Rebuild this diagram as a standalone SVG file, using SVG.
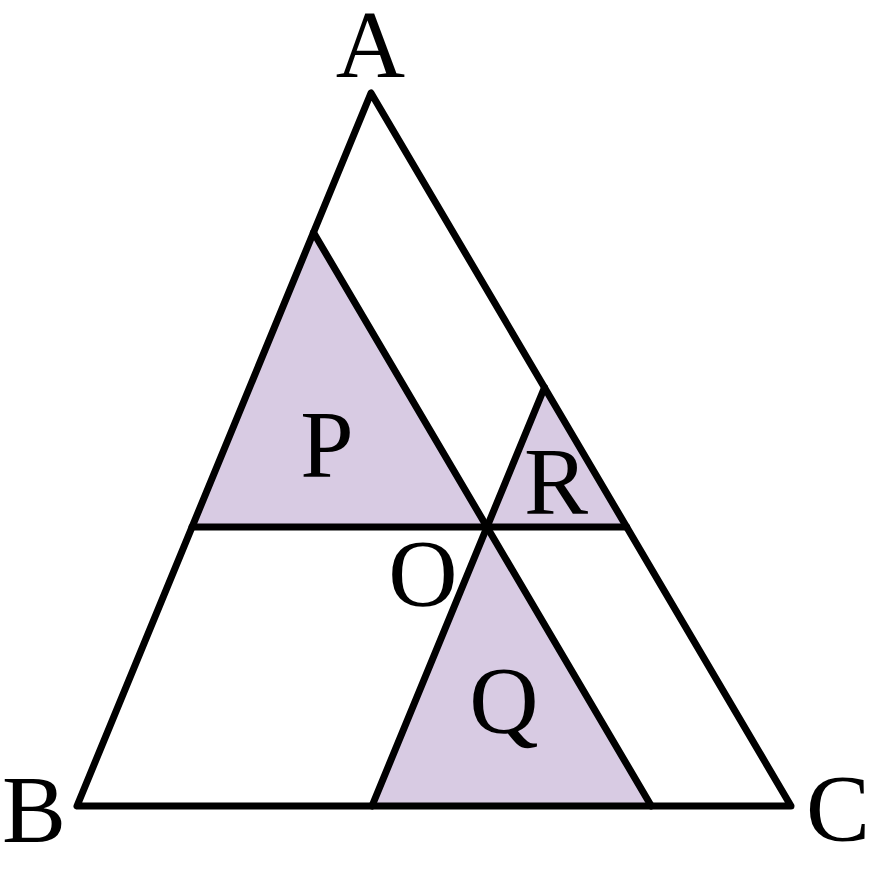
<svg xmlns="http://www.w3.org/2000/svg" width="871" height="870" viewBox="0 0 871 870">
<style>
.fill{fill:#d8cbe3;stroke:none}
.ln{fill:none;stroke:#000;stroke-width:7;stroke-linejoin:round;stroke-linecap:round}
.lbl{font-family:"Liberation Serif","DejaVu Serif",serif;font-size:96px;fill:#000;text-anchor:middle}
</style>
<rect width="871" height="870" fill="#fff"/>
<g id="regions">
<polygon id="P" class="fill" points="313.5,232.5 192,527 487,527"/>
<polygon id="Q" class="fill" points="487,527 372,806 651.3,806"/>
<polygon id="R" class="fill" points="544.5,387.5 487,527 626.7,527"/>
</g>
<g id="connectors">
<polygon class="ln" points="371,93 77,806 791,806"/>
<line class="ln" x1="192" y1="527" x2="626.7" y2="527"/>
<line class="ln" x1="313.5" y1="232.5" x2="651.3" y2="806"/>
<line class="ln" x1="544.5" y1="387.5" x2="372" y2="806"/>
</g>
<g id="labels">
<text class="lbl" x="370.5" y="77">A</text>
<text class="lbl" x="34" y="842">B</text>
<text class="lbl" x="838" y="841">C</text>
<text class="lbl" x="423" y="606">O</text>
<text class="lbl" x="327" y="477">P</text>
<text class="lbl" x="504" y="733">Q</text>
<text class="lbl" x="556" y="514">R</text>
</g>
</svg>
